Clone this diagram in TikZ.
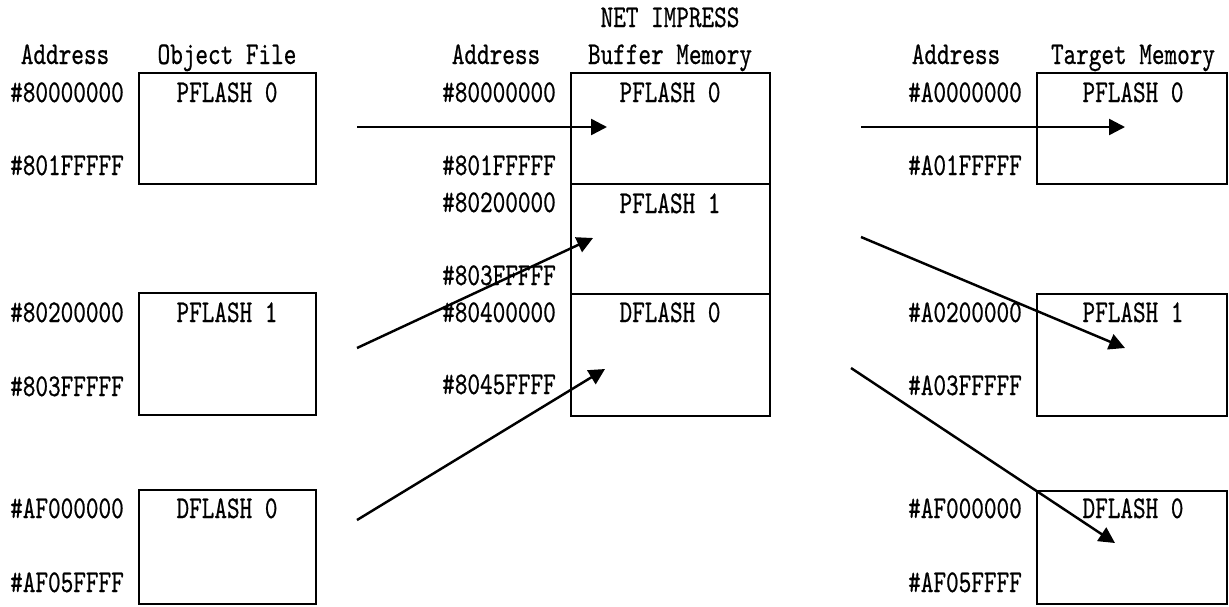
\documentclass[tikz,border=0pt]{standalone}
\usepackage{fontspec}
\setmonofont{lmmono10-regular.otf}[FakeStretch=0.76, FakeBold=0.6]
\usetikzlibrary{arrows.meta,fit}
\definecolor{MemInk}{gray}{0.0}
\tikzset{
    mem/diagram/.style={
        font=\ttfamily\fontsize{18}{21}\selectfont,
        draw=MemInk,
        text=MemInk,
        line width=1.4pt,
        line join=miter
    },
    mem/block/.style={draw=MemInk, line width=1.4pt, rectangle, inner sep=0pt},
    mem/title/.style={inner sep=0pt, anchor=base},
    mem/addr/.style={inner sep=0pt, anchor=base east},
    mem/map/.style={
        draw=MemInk, line width=1.4pt,
        -{Triangle[length=3.2mm, width=3.2mm]}
    }
}
\begin{document}
\begin{tikzpicture}[mem/diagram, x=0.02cm, y=-0.02cm]
    \useasboundingbox (0,0) rectangle (1229,606);
    % column headings
    \node[mem/title] (hdObjAddr) at (65,64) {Address};
    \node[mem/title] (hdObj) at (227,64) {Object File};
    \node[mem/title] (hdBufAddr) at (496,64) {Address};
    \node[mem/title] (hdBuf) at (670,64) {Buffer Memory};
    \node[mem/title] (hdNet) at (670,27) {NET IMPRESS};
    \node[mem/title] (hdTgtAddr) at (956,64) {Address};
    \node[mem/title] (hdTgt) at (1133,64) {Target Memory};
    % object file
    \node[mem/block, fit={(139,73) (316,184)}] (obj0) {};
    \node[mem/block, fit={(139,293) (316,415)}] (obj1) {};
    \node[mem/block, fit={(139,490) (316,604)}] (obj2) {};
    \node[mem/title] (obj0name) at (227,102) {PFLASH 0};
    \node[mem/title] (obj1name) at (227,322) {PFLASH 1};
    \node[mem/title] (obj2name) at (227,518) {DFLASH 0};
    \node[mem/addr] (obj0lo) at (125,102) {\#80000000};
    \node[mem/addr] (obj0hi) at (125,175) {\#801FFFFF};
    \node[mem/addr] (obj1lo) at (125,322) {\#80200000};
    \node[mem/addr] (obj1hi) at (125,396) {\#803FFFFF};
    \node[mem/addr] (obj2lo) at (125,518) {\#AF000000};
    \node[mem/addr] (obj2hi) at (125,592) {\#AF05FFFF};
    % buffer memory
    \node[mem/block, fit={(571,73) (770,184)}] (buf0) {};
    \node[mem/block, fit={(571,184) (770,294)}] (buf1) {};
    \node[mem/block, fit={(571,294) (770,416)}] (buf2) {};
    \node[mem/title] (buf0name) at (670,102) {PFLASH 0};
    \node[mem/title] (buf1name) at (670,213) {PFLASH 1};
    \node[mem/title] (buf2name) at (670,322) {DFLASH 0};
    \node[mem/addr] (buf0lo) at (557,102) {\#80000000};
    \node[mem/addr] (buf0hi) at (557,175) {\#801FFFFF};
    \node[mem/addr] (buf1lo) at (557,212) {\#80200000};
    \node[mem/addr] (buf1hi) at (557,285) {\#803FFFFF};
    \node[mem/addr] (buf2lo) at (557,322) {\#80400000};
    \node[mem/addr] (buf2hi) at (557,394) {\#8045FFFF};
    % target memory
    \node[mem/block, fit={(1037,73) (1227,184)}] (tgt0) {};
    \node[mem/block, fit={(1037,294) (1227,416)}] (tgt1) {};
    \node[mem/block, fit={(1037,491) (1227,604)}] (tgt2) {};
    \node[mem/title] (tgt0name) at (1133,102) {PFLASH 0};
    \node[mem/title] (tgt1name) at (1133,322) {PFLASH 1};
    \node[mem/title] (tgt2name) at (1133,518) {DFLASH 0};
    \node[mem/addr] (tgt0lo) at (1023,102) {\#A0000000};
    \node[mem/addr] (tgt0hi) at (1023,175) {\#A01FFFFF};
    \node[mem/addr] (tgt1lo) at (1023,322) {\#A0200000};
    \node[mem/addr] (tgt1hi) at (1023,395) {\#A03FFFFF};
    \node[mem/addr] (tgt2lo) at (1023,518) {\#AF000000};
    \node[mem/addr] (tgt2hi) at (1023,592) {\#AF05FFFF};
    % transfer arrows
    \coordinate (obj0out) at (357,127);
    \coordinate (obj1out) at (357,348);
    \coordinate (obj2out) at (357,520);
    \coordinate (buf0in) at (607,127);
    \coordinate (buf1in) at (593,238);
    \coordinate (buf2in) at (605,369);
    \coordinate (buf0out) at (861,127);
    \coordinate (buf1out) at (861,237);
    \coordinate (buf2out) at (851,368);
    \coordinate (tgt0in) at (1125,127);
    \coordinate (tgt1in) at (1125,348);
    \coordinate (tgt2in) at (1115,543);
    \draw[mem/map] (obj0out) -- (buf0in);
    \draw[mem/map] (obj1out) -- (buf1in);
    \draw[mem/map] (obj2out) -- (buf2in);
    \draw[mem/map] (buf0out) -- (tgt0in);
    \draw[mem/map] (buf1out) -- (tgt1in);
    \draw[mem/map] (buf2out) -- (tgt2in);
\end{tikzpicture}
\end{document}
